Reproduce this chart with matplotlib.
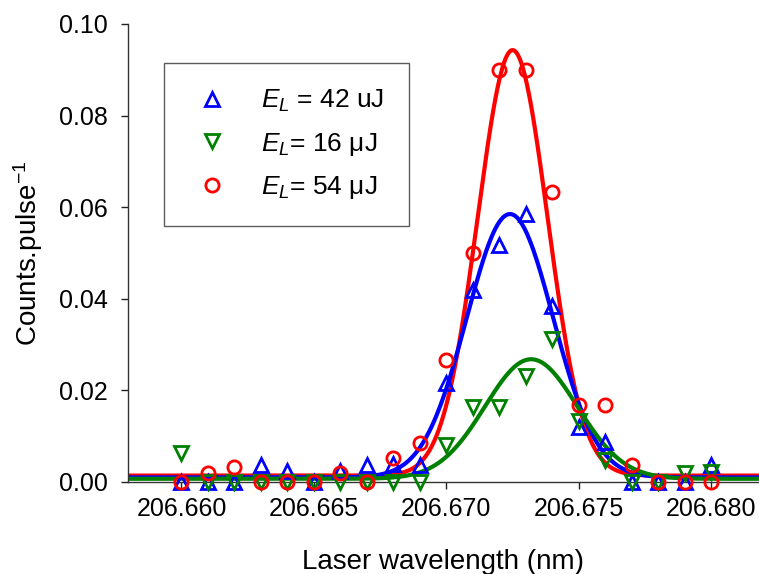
import numpy as np
import matplotlib
matplotlib.use('Agg')
import matplotlib.pyplot as plt
from matplotlib.ticker import FormatStrFormatter

plt.rcParams['font.family'] = ['Liberation Sans', 'DejaVu Sans']
plt.rcParams['mathtext.fontset'] = 'custom'
plt.rcParams['mathtext.rm'] = 'Liberation Sans'
plt.rcParams['mathtext.it'] = 'Liberation Sans:italic'

# Data
wavelength = [206.660, 206.661, 206.662, 206.663, 206.664, 206.665, 206.666,
              206.667, 206.668, 206.669, 206.670, 206.671, 206.672, 206.673,
              206.674, 206.675, 206.676, 206.677, 206.678, 206.679, 206.680]
counts_42 = [0.0, 0.0, 0.0, 0.0036, 0.0025, 0.0, 0.0025, 0.0037, 0.0039, 0.0037,
             0.0216, 0.0420, 0.0517, 0.0586, 0.0384, 0.0121, 0.0088, 0.0, 0.0,
             0.0, 0.0037]
counts_16 = [0.0064, 0.0, 0.0, 0.0, 0.0, 0.0, 0.0, 0.0, 0.0, 0.0,
             0.0081, 0.0163, 0.0163, 0.0231, 0.0313, 0.0134, 0.0049, 0.0, 0.0,
             0.0019, 0.0022]
counts_54 = [0.0, 0.0019, 0.0033, 0.0, 0.0, 0.0, 0.0019, 0.0, 0.0052, 0.0085,
             0.0267, 0.0500, 0.0900, 0.0900, 0.0633, 0.0168, 0.0168, 0.0037, 0.0,
             0.0, 0.0]

# Gaussian fit parameters (offset, amplitude, centre, sigma)
fit_42 = (0.0010, 0.0575, 206.6724, 0.00163)
fit_16 = (0.0007, 0.0261, 206.6732, 0.00174)
fit_54 = (0.0014, 0.0929, 206.6725, 0.00132)

labels = [r'$E_L$ = 42 uJ', r'$E_L$= 16 μJ', r'$E_L$= 54 μJ']


def gauss(x, p):
    y0, a, xc, w = p
    return y0 + a * np.exp(-(x - xc) ** 2 / (2 * w ** 2))


fig = plt.figure(figsize=(7.59, 5.74), dpi=100)
ax = fig.add_axes([0.1682, 0.1603, 0.8318, 0.7979])

xf = np.linspace(206.6575, 206.6830, 600)
ax.plot(xf, gauss(xf, fit_54), color='red', lw=3.0, zorder=2)
ax.plot(xf, gauss(xf, fit_42), color='blue', lw=3.0, zorder=2)
ax.plot(xf, gauss(xf, fit_16), color='green', lw=3.0, zorder=2)

ms = 9.5
mew = 2.0
ax.plot(wavelength, counts_42, ls='none', marker='^', ms=ms, mew=mew,
        mfc='none', mec='blue', clip_on=False, zorder=3, label=labels[0])
ax.plot(wavelength, counts_16, ls='none', marker='v', ms=ms, mew=mew,
        mfc='none', mec='green', clip_on=False, zorder=3, label=labels[1])
ax.plot(wavelength, counts_54, ls='none', marker='o', ms=ms, mew=mew,
        mfc='none', mec='red', clip_on=False, zorder=3, label=labels[2])

ax.set_xlim(206.65797, 206.6818)
ax.set_ylim(0, 0.10)
ax.set_xticks([206.660, 206.665, 206.670, 206.675, 206.680])
ax.set_yticks([0.00, 0.02, 0.04, 0.06, 0.08, 0.10])
ax.xaxis.set_major_formatter(FormatStrFormatter('%.3f'))
ax.yaxis.set_major_formatter(FormatStrFormatter('%.2f'))
ax.tick_params(direction='out', length=5, width=1, labelsize=18, pad=6,
               colors='#222222', labelcolor='black')
ax.tick_params(axis='y', pad=9)

for side in ['top', 'right']:
    ax.spines[side].set_visible(False)
for side in ['left', 'bottom']:
    ax.spines[side].set_color('#333333')
    ax.spines[side].set_linewidth(1.0)

ax.set_xlabel('Laser wavelength (nm)', fontsize=20, labelpad=20)
ax.set_ylabel('Counts.pulse$^{-1}$', fontsize=20, labelpad=10)

leg = ax.legend(loc='upper left', bbox_to_anchor=(0.058, 0.915), fontsize=19,
                frameon=True, fancybox=False, edgecolor='#333333',
                borderpad=0.95, labelspacing=0.62, handlelength=1.7,
                handletextpad=1.0, borderaxespad=0)
leg.get_frame().set_linewidth(1.0)

fig.savefig('out.png', dpi=100)
